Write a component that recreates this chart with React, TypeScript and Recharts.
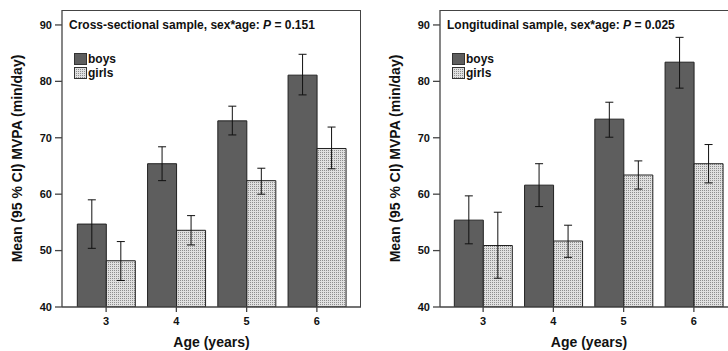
import { Bar, BarChart, ErrorBar, Legend, XAxis, YAxis } from 'recharts'

const AGES = ['3', '4', '5', '6']

const CROSS_BOYS = [54.7, 65.4, 73.0, 81.1]
const CROSS_BOYS_LOW = [50.4, 62.4, 70.5, 77.6]
const CROSS_BOYS_HIGH = [59.0, 68.4, 75.6, 84.8]
const CROSS_GIRLS = [48.2, 53.6, 62.4, 68.1]
const CROSS_GIRLS_LOW = [44.7, 51.0, 60.0, 64.5]
const CROSS_GIRLS_HIGH = [51.6, 56.2, 64.6, 71.9]

const LONG_BOYS = [55.4, 61.6, 73.3, 83.4]
const LONG_BOYS_LOW = [51.2, 57.8, 70.1, 78.8]
const LONG_BOYS_HIGH = [59.7, 65.4, 76.3, 87.8]
const LONG_GIRLS = [50.9, 51.7, 63.4, 65.4]
const LONG_GIRLS_LOW = [45.1, 48.8, 60.9, 62.0]
const LONG_GIRLS_HIGH = [56.8, 54.5, 65.9, 68.8]

const Y_TICKS = [40, 50, 60, 70, 80, 90]

const FONT = '"Liberation Sans", Arial, sans-serif'
const BOYS_FILL = '#5e5e5e'
const GIRLS_FILL = 'url(#girlsDots)'
const LINE = '#444'
const CHART_H = 351
const TOP = 10
const X_AXIS_H = 44

function buildRows(
  boys: number[],
  boysLow: number[],
  boysHigh: number[],
  girls: number[],
  girlsLow: number[],
  girlsHigh: number[]
) {
  return AGES.map((age, i) => ({
    age,
    boys: boys[i],
    boysErr: [boys[i] - boysLow[i], boysHigh[i] - boys[i]],
    girls: girls[i],
    girlsErr: [girls[i] - girlsLow[i], girlsHigh[i] - girls[i]],
  }))
}

function Swatch({ fill }: { fill: string }) {
  return (
    <svg width={13} height={12} style={{ marginRight: 1 }}>
      <rect x={0.5} y={0.5} width={12} height={11} fill={fill} stroke="#333" />
    </svg>
  )
}

function PanelLegend({ title, p }: { title: string; p: string }) {
  return (
    <div style={{ fontFamily: FONT, fontWeight: 'bold', color: '#111' }}>
      <div style={{ fontSize: 12, lineHeight: '14px', whiteSpace: 'nowrap' }}>
        {title} <i>P</i> = {p}
      </div>
      <div style={{ marginTop: 20, marginLeft: 5, fontSize: 12, lineHeight: '14px' }}>
        <div style={{ display: 'flex', alignItems: 'center' }}>
          <Swatch fill={BOYS_FILL} />
          boys
        </div>
        <div style={{ display: 'flex', alignItems: 'center' }}>
          <Swatch fill={GIRLS_FILL} />
          girls
        </div>
      </div>
    </div>
  )
}

type PanelProps = {
  rows: ReturnType<typeof buildRows>
  title: string
  p: string
  width: number
  axisWidth: number
  marginRight: number
  padLeft: number
  padRight: number
}

function Panel({ rows, title, p, width, axisWidth, marginRight, padLeft, padRight }: PanelProps) {
  const plotW = width - axisWidth - marginRight
  return (
    <div style={{ position: 'relative', width, height: CHART_H }}>
      <BarChart
        width={width}
        height={CHART_H}
        data={rows}
        margin={{ top: TOP, right: marginRight, bottom: 0, left: 0 }}
        barCategoryGap="9%"
        barGap={0}
      >
        <XAxis
          dataKey="age"
          padding={{ left: padLeft, right: padRight }}
          height={X_AXIS_H}
          tickSize={5}
          tickMargin={5}
          stroke={LINE}
          strokeWidth={1.3}
          tick={{ fill: '#111', fontSize: 11, fontWeight: 'bold', fontFamily: FONT }}
          label={{
            value: 'Age (years)',
            position: 'insideBottom',
            offset: 4,
            fill: '#111',
            fontSize: 14,
            fontWeight: 'bold',
            fontFamily: FONT,
          }}
        />
        <YAxis
          domain={[40, 92.65]}
          ticks={Y_TICKS}
          allowDataOverflow
          width={axisWidth}
          tickSize={7}
          tickMargin={3}
          stroke={LINE}
          strokeWidth={1.3}
          tick={{ fill: '#111', fontSize: 11, fontWeight: 'bold', fontFamily: FONT }}
          label={{
            value: 'Mean (95 % CI) MVPA (min/day)',
            angle: -90,
            position: 'insideLeft',
            offset: axisWidth - 45,
            style: { textAnchor: 'middle' },
            fill: '#111',
            fontSize: 14,
            fontWeight: 'bold',
            fontFamily: FONT,
          }}
        />
        <Legend
          layout="vertical"
          align="center"
          verticalAlign="middle"
          wrapperStyle={{ left: axisWidth + 7, top: 18, width: 'auto' }}
          content={() => <PanelLegend title={title} p={p} />}
        />
        <Bar dataKey="boys" fill={BOYS_FILL} stroke="#222" strokeWidth={1} isAnimationActive={false}>
          <ErrorBar dataKey="boysErr" width={4} stroke="#111" strokeWidth={1} direction="y" />
        </Bar>
        <Bar dataKey="girls" fill={GIRLS_FILL} stroke="#222" strokeWidth={1} isAnimationActive={false}>
          <ErrorBar dataKey="girlsErr" width={4} stroke="#111" strokeWidth={1} direction="y" />
        </Bar>
      </BarChart>
      {/* top and right edges of the plot frame */}
      <div
        style={{
          position: 'absolute',
          left: axisWidth,
          top: TOP - 0.5,
          width: plotW,
          height: CHART_H - TOP - X_AXIS_H,
          borderTop: `1.3px solid ${LINE}`,
          borderRight: `1.3px solid ${LINE}`,
          boxSizing: 'border-box',
          pointerEvents: 'none',
        }}
      />
    </div>
  )
}

const crossRows = buildRows(CROSS_BOYS, CROSS_BOYS_LOW, CROSS_BOYS_HIGH, CROSS_GIRLS, CROSS_GIRLS_LOW, CROSS_GIRLS_HIGH)
const longRows = buildRows(LONG_BOYS, LONG_BOYS_LOW, LONG_BOYS_HIGH, LONG_GIRLS, LONG_GIRLS_LOW, LONG_GIRLS_HIGH)

export default function App() {
  return (
    <div
      style={{
        position: 'absolute',
        left: 0,
        top: 0,
        width: 728,
        height: 351,
        overflow: 'hidden',
        background: '#fff',
      }}
    >
      <svg width={0} height={0} style={{ position: 'absolute' }}>
        <defs>
          <pattern id="girlsDots" width={2} height={2} patternUnits="userSpaceOnUse">
            <rect width={2} height={2} fill="#e0e0e0" />
            <rect width={1} height={1} fill="#8e8e8e" />
          </pattern>
        </defs>
      </svg>
      <div style={{ position: 'absolute', left: 0, top: 0 }}>
        <Panel
          rows={crossRows}
          title="Cross-sectional sample, sex*age:"
          p="0.151"
          width={364}
          axisWidth={62}
          marginRight={3}
          padLeft={9}
          padRight={9}
        />
      </div>
      <div style={{ position: 'absolute', left: 364, top: 0 }}>
        <Panel
          rows={longRows}
          title="Longitudinal sample, sex*age:"
          p="0.025"
          width={380}
          axisWidth={76}
          marginRight={6}
          padLeft={8}
          padRight={9}
        />
      </div>
    </div>
  )
}
